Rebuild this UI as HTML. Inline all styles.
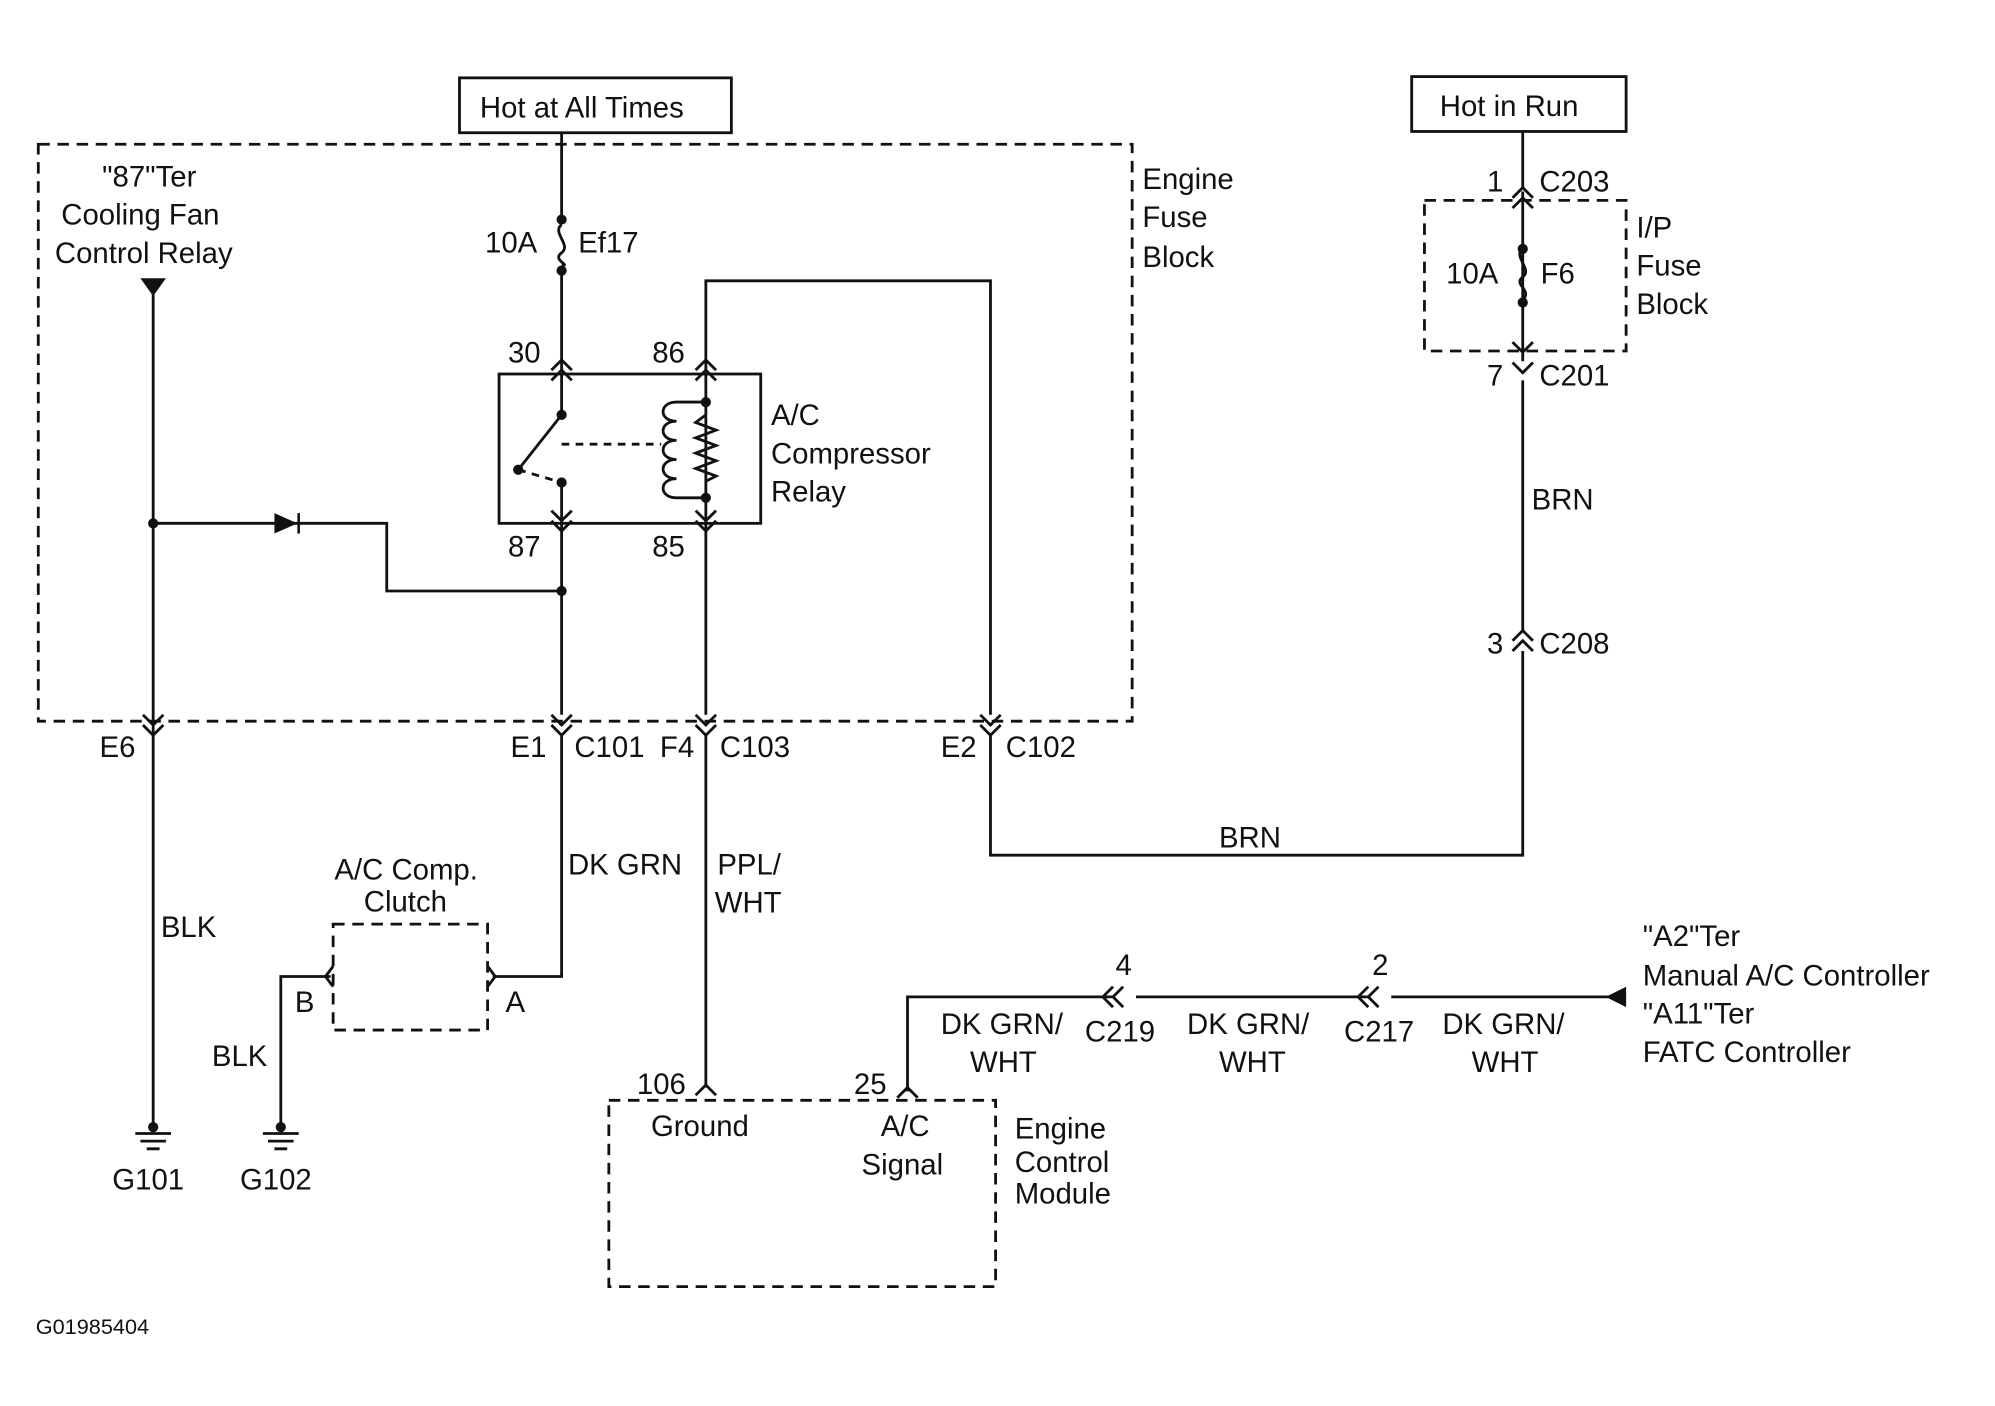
<!DOCTYPE html>
<html><head><meta charset="utf-8"><style>
html,body{margin:0;padding:0;background:#fff}
svg{display:block}
text{font-family:"Liberation Sans",Arial,sans-serif;font-size:23px;fill:#111}
</style></head><body>
<svg width="1995" height="1406" viewBox="0 0 1563 1101.5" preserveAspectRatio="none" xmlns="http://www.w3.org/2000/svg">
<g stroke="#111" stroke-width="2.2" fill="none">
<!-- boxes -->
<rect x="360" y="61" width="213" height="43"/>
<rect x="1106" y="60" width="168" height="43"/>
<rect x="30" y="113" width="857" height="452" stroke-dasharray="9,6"/>
<rect x="1116" y="157" width="158" height="118" stroke-dasharray="9,6"/>
<rect x="261" y="724" width="121" height="83" stroke-dasharray="9,6"/>
<rect x="477" y="862" width="303" height="146" stroke-dasharray="9,6"/>
<rect x="391" y="293" width="205" height="117"/>
<!-- main 30 line -->
<path d="M440 104 V172 M440 212 V290"/>
<path d="M440 176 c-8 6 8 16 0 22 c-8 6 8 10 0 10"/>
<!-- relay internals -->
<path d="M440 293 V325 M440 325 L406 368 M440 378 V410"/>
<path d="M440 348 H518" stroke-dasharray="6,5"/>
<path d="M406 368 L440 378" stroke-dasharray="6,5"/>
<path d="M553 293 V410 M530 315 H553 M530 390 H553"/>
<path d="M530 315 c-14 0 -14 15 0 15 c-14 0 -14 15 0 15 c-14 0 -14 15 0 15 c-14 0 -14 15 0 15 c-14 0 -14 15 0 15"/>
<path d="M553 325 l-8 6 l16 6 l-16 6 l16 6 l-16 6 l16 6 l-16 6 l16 6 l-8 4"/>
<!-- 86 loop -->
<path d="M553 290 V220 H776 V560"/>
<!-- 87 line -->
<path d="M440 410 V560"/>
<path d="M553 410 V560"/>
<!-- left relay line -->
<path d="M120 225 V880"/>
<path d="M120 410 H303 V463 H440"/>
<!-- below -->
<path d="M440 575 V765 H386"/>
<path d="M259 765 H220 V880"/>
<path d="M553 575 V852"/>
<path d="M711 855 V781 H872 M890 781 H1072 M1090 781 H1260"/>
<path d="M776 575 V670 H1193 V510 M1193 495 V298 M1193 283 V150 M1193 103 V148"/>
<!-- connector chevrons -->
<path d="M112 560 l8 8 l8 -8 M112 568 l8 8 l8 -8 M432 560 l8 8 l8 -8 M432 568 l8 8 l8 -8 M545 560 l8 8 l8 -8 M545 568 l8 8 l8 -8 M768 560 l8 8 l8 -8 M768 568 l8 8 l8 -8"/>
<path d="M432 290 l8 -8 l8 8 M432 298 l8 -8 l8 8 M545 290 l8 -8 l8 8 M545 298 l8 -8 l8 8"/>
<path d="M432 408 l8 8 l8 -8 M432 400 l8 8 l8 -8 M545 408 l8 8 l8 -8 M545 400 l8 8 l8 -8"/>
<path d="M1185 155 l8 -8 l8 8 M1185 163 l8 -8 l8 8 M1185 268 l8 8 l8 -8 M1185 284 l8 8 l8 -8 M1185 510 l8 -8 l8 8 M1185 502 l8 -8 l8 8"/>
<path d="M545 858 l8 -8 l8 8 M703 860 l8 -8 l8 8 M872 773 l-8 8 l8 8 M880 773 l-8 8 l8 8 M1072 773 l-8 8 l8 8 M1080 773 l-8 8 l8 8"/>
<path d="M382 757 l6 8 l-6 8 M261 757 l-6 8 l6 8"/>
<!-- IP fuse -->
<path d="M1193 195 c-8 6 8 16 0 22 c-8 6 8 10 0 18"/>
<!-- grounds -->
<path d="M106 888 H134 M110 894 H130 M115 900 H125 M206 888 H234 M210 894 H230 M215 900 H225"/>
</g>
<g fill="#111">
<polygon points="110,218 130,218 120,232"/>
<polygon points="1258,781 1274,773 1274,789"/>
<polygon points="215,402 215,418 233,410"/><rect x="233" y="402" width="2" height="16"/>
<circle cx="440" cy="172" r="4"/><circle cx="440" cy="212" r="4"/>
<circle cx="1193" cy="195" r="4"/><circle cx="1193" cy="237" r="4"/>
<circle cx="120" cy="410" r="4"/><circle cx="440" cy="463" r="4"/>
<circle cx="440" cy="325" r="4"/><circle cx="440" cy="378" r="4"/><circle cx="406" cy="368" r="4"/>
<circle cx="553" cy="315" r="4"/><circle cx="553" cy="390" r="4"/>
<circle cx="120" cy="883" r="4"/><circle cx="220" cy="883" r="4"/>
</g>
<text x="376" y="92">Hot at All Times</text>
<text x="1128" y="91">Hot in Run</text>
<text x="80" y="146">"87"Ter</text>
<text x="48" y="176">Cooling Fan</text>
<text x="43" y="206">Control Relay</text>
<text x="895" y="148">Engine</text><text x="895" y="178">Fuse</text><text x="895" y="209">Block</text>
<text x="380" y="198">10A</text><text x="453" y="198">Ef17</text>
<text x="398" y="284">30</text><text x="511" y="284">86</text>
<text x="398" y="436">87</text><text x="511" y="436">85</text>
<text x="604" y="333">A/C</text><text x="604" y="363">Compressor</text><text x="604" y="393">Relay</text>
<text x="1165" y="150">1</text><text x="1206" y="150">C203</text>
<text x="1282" y="186">I/P</text><text x="1282" y="216">Fuse</text><text x="1282" y="246">Block</text>
<text x="1133" y="222">10A</text><text x="1207" y="222">F6</text>
<text x="1165" y="302">7</text><text x="1206" y="302">C201</text>
<text x="1200" y="399">BRN</text>
<text x="1165" y="512">3</text><text x="1206" y="512">C208</text>
<text x="78" y="593">E6</text>
<text x="400" y="593">E1</text><text x="450" y="593">C101</text>
<text x="517" y="593">F4</text><text x="564" y="593">C103</text>
<text x="737" y="593">E2</text><text x="788" y="593">C102</text>
<text x="955" y="664">BRN</text>
<text x="262" y="689">A/C Comp.</text><text x="285" y="714">Clutch</text>
<text x="445" y="685">DK GRN</text>
<text x="562" y="685">PPL/</text><text x="560" y="715">WHT</text>
<text x="126" y="734">BLK</text>
<text x="231" y="793">B</text><text x="396" y="793">A</text>
<text x="166" y="835">BLK</text>
<text x="88" y="932">G101</text><text x="188" y="932">G102</text>
<text x="874" y="764">4</text><text x="1075" y="764">2</text>
<text x="1287" y="741">"A2"Ter</text>
<text x="1287" y="772">Manual A/C Controller</text>
<text x="1287" y="802">"A11"Ter</text>
<text x="1287" y="832">FATC Controller</text>
<text x="737" y="810">DK GRN/</text><text x="760" y="840">WHT</text>
<text x="850" y="816">C219</text>
<text x="930" y="810">DK GRN/</text><text x="955" y="840">WHT</text>
<text x="1053" y="816">C217</text>
<text x="1130" y="810">DK GRN/</text><text x="1153" y="840">WHT</text>
<text x="499" y="857">106</text><text x="669" y="857">25</text>
<text x="510" y="890">Ground</text>
<text x="690" y="890">A/C</text><text x="675" y="920">Signal</text>
<text x="795" y="892">Engine</text><text x="795" y="918">Control</text><text x="795" y="943">Module</text>
<text x="28" y="1045" style="font-size:17px">G01985404</text>
</svg>
</body></html>
